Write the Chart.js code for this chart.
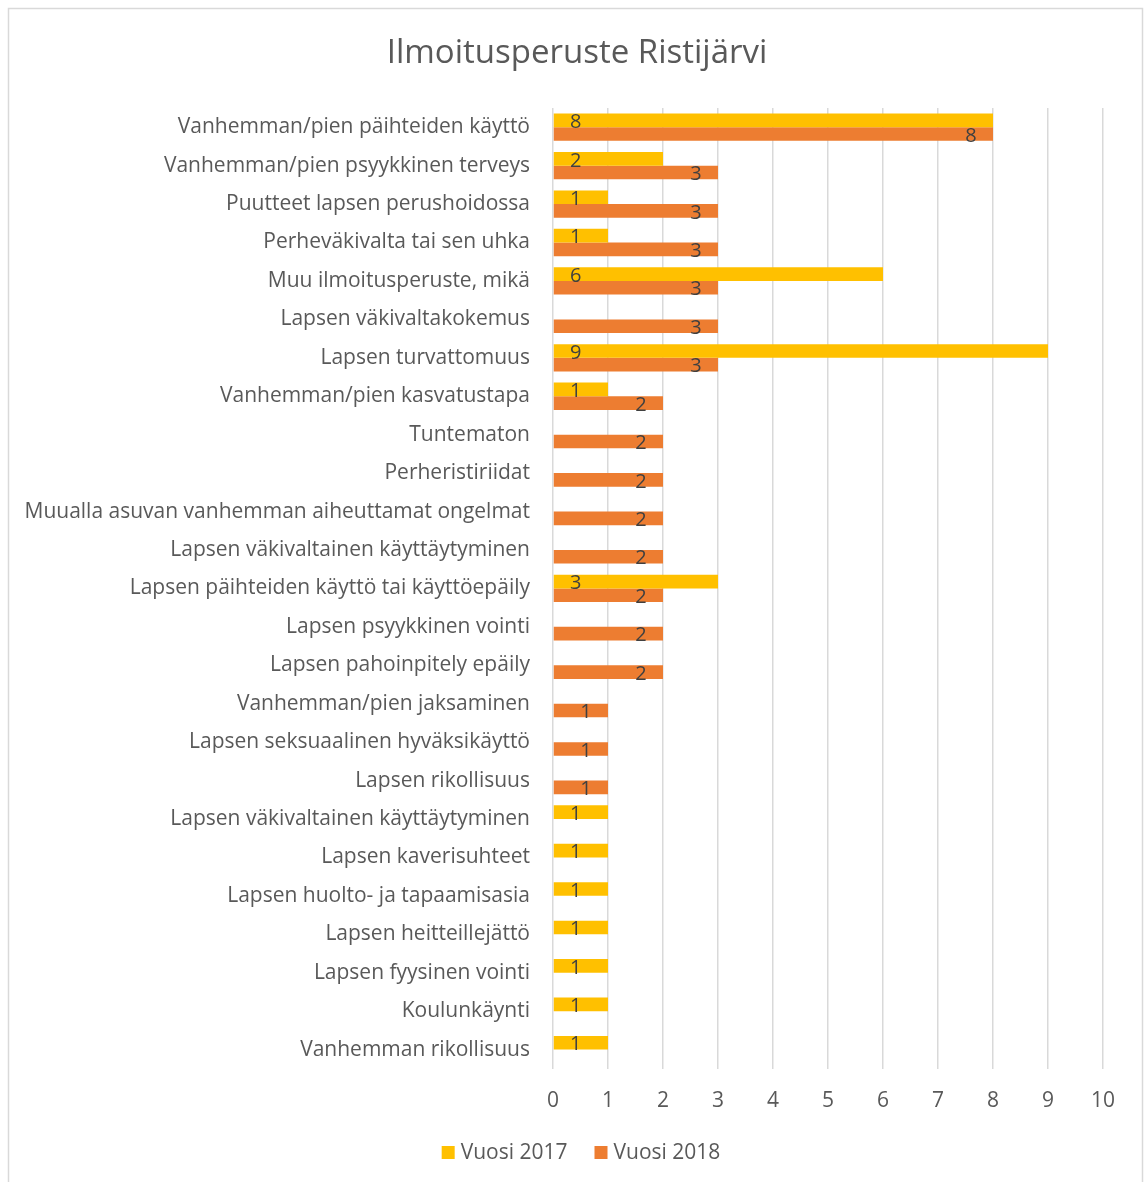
<!DOCTYPE html>
<html>
<head>
<meta charset="utf-8">
<script src="https://cdn.jsdelivr.net/npm/chart.js@4"></script>
<style>
  html, body { margin: 0; padding: 0; background: #fff; }
  #wrap { position: relative; width: 1144px; height: 1182px; }
</style>
</head>
<body>
<div id="wrap"><canvas id="chart"></canvas></div>
<script>
const categories = [
  'Vanhemman/pien päihteiden käyttö',
  'Vanhemman/pien psyykkinen terveys',
  'Puutteet lapsen perushoidossa',
  'Perheväkivalta tai sen uhka',
  'Muu ilmoitusperuste, mikä',
  'Lapsen väkivaltakokemus',
  'Lapsen turvattomuus',
  'Vanhemman/pien kasvatustapa',
  'Tuntematon',
  'Perheristiriidat',
  'Muualla asuvan vanhemman aiheuttamat ongelmat',
  'Lapsen väkivaltainen käyttäytyminen',
  'Lapsen päihteiden käyttö tai käyttöepäily',
  'Lapsen psyykkinen vointi',
  'Lapsen pahoinpitely epäily',
  'Vanhemman/pien jaksaminen',
  'Lapsen seksuaalinen hyväksikäyttö',
  'Lapsen rikollisuus',
  'Lapsen väkivaltainen käyttäytyminen',
  'Lapsen kaverisuhteet',
  'Lapsen huolto- ja tapaamisasia',
  'Lapsen heitteillejättö',
  'Lapsen fyysinen vointi',
  'Koulunkäynti',
  'Vanhemman rikollisuus'
];
const vuosi2017 = [8, 2, 1, 1, 6, null, 9, 1, null, null, null, null, 3, null, null, null, null, null, 1, 1, 1, 1, 1, 1, 1];
const vuosi2018 = [8, 3, 3, 3, 3, 3, 3, 2, 2, 2, 2, 2, 2, 2, 2, 1, 1, 1, null, null, null, null, null, null, null];
const xTicks = [0, 1, 2, 3, 4, 5, 6, 7, 8, 9, 10];
const chartTitle = 'Ilmoitusperuste Ristijärvi';

const FONT = '"Open Sans", Lato, sans-serif';
const TEXT = '#595959';

// value labels: 2017 at inside base, 2018 at inside end
const barLabels = {
  id: 'barLabels',
  afterDatasetsDraw(chart) {
    const ctx = chart.ctx;
    ctx.save();
    ctx.font = '20px ' + FONT;
    ctx.fillStyle = '#404040';
    ctx.textAlign = 'center';
    ctx.textBaseline = 'middle';
    chart.data.datasets.forEach((ds, di) => {
      const meta = chart.getDatasetMeta(di);
      meta.data.forEach((bar, i) => {
        const v = ds.data[i];
        if (v === null || v === undefined) return;
        const x = di === 0 ? bar.base + 22 : bar.x - 22;
        ctx.fillText(String(v), x, bar.y + 2);
      });
    });
    ctx.restore();
  }
};

// chart border, title and legend (Excel centres these on the whole chart, not the plot)
const frame = {
  id: 'frame',
  beforeDraw(chart) {
    const ctx = chart.ctx;
    ctx.save();
    ctx.fillStyle = '#fff';
    ctx.fillRect(0, 0, chart.width, chart.height);
    ctx.strokeStyle = '#d9d9d9';
    ctx.lineWidth = 1.5;
    ctx.strokeRect(8.5, 8.5, 1134, 1200);
    ctx.restore();
  },
  afterDraw(chart) {
    const ctx = chart.ctx;
    ctx.save();
    ctx.fillStyle = TEXT;
    ctx.font = '33px ' + FONT;
    ctx.textAlign = 'center';
    ctx.textBaseline = 'alphabetic';
    ctx.fillText(chartTitle, 577, 63);

    // legend
    ctx.font = '21px ' + FONT;
    ctx.textAlign = 'left';
    ctx.textBaseline = 'middle';
    const items = chart.data.datasets.map(ds => ({ label: ds.label, color: ds.backgroundColor, w: ctx.measureText(ds.label).width }));
    const box = 13, gap = 6, between = 27;
    let total = items.reduce((s, it) => s + box + gap + it.w, 0) + between * (items.length - 1);
    let x = 581 - total / 2;
    const y = 1152;
    items.forEach(it => {
      ctx.fillStyle = it.color;
      ctx.fillRect(x, y - 6, box, box);
      ctx.fillStyle = TEXT;
      ctx.fillText(it.label, x + box + gap, y + 1);
      x += box + gap + it.w + between;
    });
    ctx.restore();
  }
};

new Chart(document.getElementById('chart'), {
  type: 'bar',
  data: {
    labels: categories,
    datasets: [
      { label: 'Vuosi 2017', data: vuosi2017, backgroundColor: '#FFC000' },
      { label: 'Vuosi 2018', data: vuosi2018, backgroundColor: '#ED7D31' }
    ]
  },
  options: {
    indexAxis: 'y',
    responsive: true,
    maintainAspectRatio: false,
    animation: false,
    datasets: { bar: { categoryPercentage: 0.71, barPercentage: 1.0 } },
    layout: { padding: { left: 0, right: 41, top: 108, bottom: 48 } },
    plugins: {
      title: { display: false },
      legend: { display: false },
      tooltip: { enabled: false }
    },
    scales: {
      x: {
        min: 0,
        max: 10,
        afterBuildTicks: (scale) => { scale.ticks = xTicks.map(v => ({ value: v })); },
        ticks: { color: TEXT, font: { family: FONT, size: 21 }, padding: 20 },
        grid: { color: '#d9d9d9', lineWidth: 1.5, drawTicks: false },
        border: { display: false }
      },
      y: {
        afterFit: (scale) => { scale.width = 553; },
        ticks: { color: TEXT, font: { family: FONT, size: 21 }, padding: 15, autoSkip: false },
        grid: { display: false },
        border: { display: false }
      }
    }
  },
  plugins: [frame, barLabels]
});
</script>
</body>
</html>
